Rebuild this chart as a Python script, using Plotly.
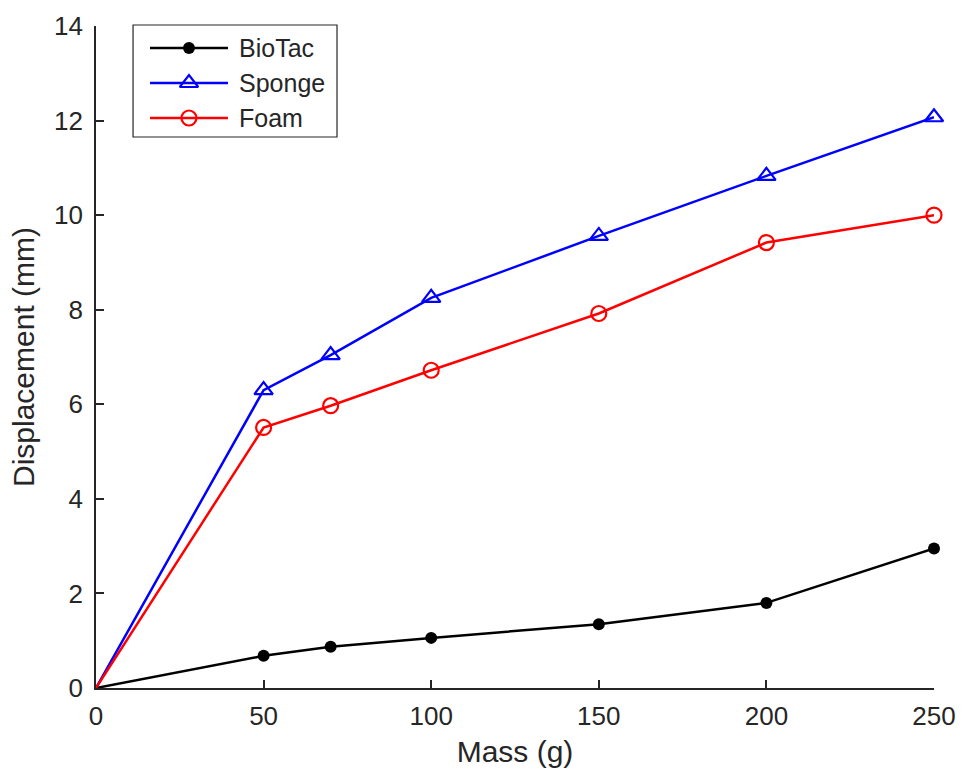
import plotly.graph_objects as go

mass = [0, 50, 70, 100, 150, 200, 250]
biotac = [0, 0.68, 0.87, 1.06, 1.35, 1.80, 2.95]
sponge = [0, 6.30, 7.04, 8.25, 9.56, 10.83, 12.07]
foam = [0, 5.51, 5.97, 6.72, 7.92, 9.42, 10.00]

series_names = ["BioTac", "Sponge", "Foam"]
x_ticks = [0, 50, 100, 150, 200, 250]
y_ticks = [0, 2, 4, 6, 8, 10, 12, 14]

axis_color = "#262626"
font_family = "Liberation Sans, Arial, Helvetica, sans-serif"

styles = {
    "BioTac": dict(color="#000000", marker=dict(symbol="circle", size=12, color="#000000")),
    "Sponge": dict(color="#0000ff", marker=dict(symbol="triangle-up-open", size=16, color="#0000ff",
                                                line=dict(width=2.2, color="#0000ff"))),
    "Foam": dict(color="#ff0000", marker=dict(symbol="circle-open", size=15, color="#ff0000",
                                              line=dict(width=2.2, color="#ff0000"))),
}
values = {"BioTac": biotac, "Sponge": sponge, "Foam": foam}

fig = go.Figure()

# Curves: line through every measurement, markers only at the loaded masses
for name in series_names:
    st = styles[name]
    ys = values[name]
    fig.add_trace(go.Scatter(
        x=mass, y=ys, mode="lines", showlegend=False, cliponaxis=False,
        line=dict(color=st["color"], width=2.5), hoverinfo="skip",
    ))
    loaded = [(m, v) for m, v in zip(mass, ys) if m > 0]
    fig.add_trace(go.Scatter(
        x=[m for m, _ in loaded], y=[v for _, v in loaded], mode="markers",
        name=name, showlegend=False, cliponaxis=False, marker=st["marker"],
    ))

# Legend box: a small hidden subplot holding one sample glyph per series
leg_x0, leg_x1 = 0.0644, 0.1575
fig.add_shape(type="rect", xref="paper", yref="paper",
              x0=0.0442, x1=0.2876, y0=0.8323, y1=1.0015,
              line=dict(color=axis_color, width=1.2),
              fillcolor="rgba(0,0,0,0)", layer="above")
for k, name in enumerate(series_names):
    st = styles[name]
    fig.add_trace(go.Scatter(
        x=[0, 1], y=[k, k], mode="lines", xaxis="x2", yaxis="y2",
        showlegend=False, hoverinfo="skip", line=dict(color=st["color"], width=2.5),
    ))
    fig.add_trace(go.Scatter(
        x=[0.5], y=[k], mode="markers", xaxis="x2", yaxis="y2",
        showlegend=False, hoverinfo="skip", cliponaxis=False, marker=st["marker"],
    ))
    fig.add_annotation(
        x=0.1683, xref="paper", y=k, yref="y2", text=name, showarrow=False,
        xanchor="left", yanchor="middle",
        font=dict(size=25, color=axis_color, family=font_family),
    )

axis_common = dict(
    showline=True, linecolor=axis_color, linewidth=1.8,
    ticks="inside", ticklen=8, tickwidth=1.5, tickcolor=axis_color,
    showgrid=False, zeroline=False, mirror=False, automargin=False,
    tickfont=dict(size=26, color=axis_color, family=font_family),
)

fig.update_layout(
    width=961, height=769,
    margin=dict(l=96, r=27, t=26, b=81),
    plot_bgcolor="white", paper_bgcolor="white",
    font=dict(family=font_family, color=axis_color),
    showlegend=False,
    xaxis=dict(range=[0, 250], tickvals=x_ticks, ticklabelstandoff=4,
               title=dict(text="Mass (g)", font=dict(size=30, color=axis_color),
                          standoff=11),
               **axis_common),
    yaxis=dict(range=[0, 14], tickvals=y_ticks, ticklabelstandoff=6,
               title=dict(text="Displacement (mm)", font=dict(size=30, color=axis_color),
                          standoff=10),
               **axis_common),
    xaxis2=dict(domain=[leg_x0, leg_x1], range=[0, 1], visible=False,
                anchor="y2", fixedrange=True),
    yaxis2=dict(domain=[0.8346, 0.9932], range=[2.5, -0.5], visible=False,
                anchor="x2", fixedrange=True),
)

fig.write_html("out.html")
